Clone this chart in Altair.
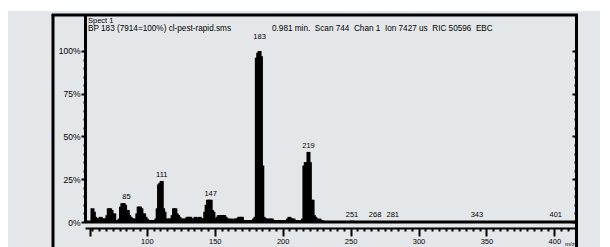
import altair as alt
import pandas as pd

# ---- data ----
mz = [60, 61, 62, 63, 64, 65, 66, 67, 68, 69, 70, 71, 72, 73, 74, 75, 76, 77, 78, 79,
      80, 81, 82, 83, 84, 85, 86, 87, 88, 89, 90, 91, 92, 93, 94, 95, 96, 97, 98, 99,
      100, 101, 102, 103, 104, 105, 106, 107, 108, 109, 110, 111, 112, 113, 114, 115, 116, 117, 118, 119,
      120, 121, 122, 123, 124, 125, 126, 127, 128, 129, 130, 131, 132, 133, 134, 135, 136, 137, 138, 139,
      140, 141, 142, 143, 144, 145, 146, 147, 148, 149, 150, 151, 152, 153, 154, 155, 156, 157, 158, 159,
      160, 161, 162, 163, 164, 165, 166, 167, 168, 169, 170, 171, 172, 173, 174, 175, 176, 177, 178, 179,
      180, 181, 182, 183, 184, 185, 186, 187, 188, 189, 190, 191, 192, 193, 194, 195, 196, 197, 198, 199,
      200, 201, 202, 203, 204, 205, 206, 207, 208, 209, 210, 211, 212, 213, 214, 215, 216, 217, 218, 219,
      220, 221, 222, 223, 224, 225, 226, 227, 228, 229, 230, 233, 235, 240, 245, 251, 268, 281, 343, 401]
intensity = [8, 6, 3, 2, 2, 2, 3, 2, 2, 2, 2, 4, 8, 8, 7, 5, 5, 1, 1, 1,
             2, 9, 11, 11, 10, 7, 7, 4, 3, 2, 2, 2, 1, 5, 9, 9, 8, 5, 5, 3,
             2, 1, 1, 1, 1, 1, 1, 2, 8, 22, 23, 24, 8, 6, 2, 1, 2, 2, 2, 4,
             8, 8, 5, 4, 3, 2, 2, 1, 2, 2, 3, 3, 3, 2, 2, 2, 3, 2, 2, 3,
             2, 2, 2, 6, 10, 13, 13, 13, 7, 6, 2, 2, 3, 4, 4, 4, 4, 4, 3, 2,
             2, 1, 2, 1, 1, 2, 2, 2, 3, 3, 3, 1, 1, 1, 1, 1, 1, 1, 1, 2,
             3, 96, 99, 100, 97, 33, 3, 2, 2, 2, 1, 2, 2, 1, 1, 1, 1, 1, 1, 1,
             1, 1, 1, 1, 2, 3, 2, 2, 2, 1, 1, 1, 1, 1, 1, 2, 33, 35, 35, 41,
             35, 13, 13, 4, 3, 2, 1, 2, 1, 1, 0.5, 0.5, 0.5, 0.5, 0.5, 0.8, 0.6, 0.6, 0.4, 0.4]

label_mz = [85, 111, 147, 183, 219, 251, 268, 281, 343, 401]
label_text = ["85", "111", "147", "183", "219", "251", "268", "281", "343", "401"]
label_pct = [11.5, 24.5, 13.5, 105, 41.5, 1.3, 1.3, 1.3, 1.3, 1.3]

y_ticks = list(range(0, 101, 5))
x_ticks = [58.2] + list(range(60, 411, 5))

NB = "\u00a0"
header1 = "Spect 1"
header2 = "BP 183 (7914=100%) cl-pest-rapid.sms"
header3 = NB.join(["0.981 min.", "", "Scan 744", "", "Chan 1", "", "Ion 7427 us", "", "RIC 50596", "", "EBC"])
xunit = "m/z"

df = pd.DataFrame({"mz": mz, "pct": intensity})
lab = pd.DataFrame({"mz": label_mz, "txt": label_text, "pct": label_pct})
one = alt.Data(values=[{"k": 0}])

W, H = 491, 207
FONT = "Liberation Sans"
xscale = alt.Scale(domain=[58.17, 412.24], nice=False, zero=False)
yscale = alt.Scale(domain=[0, 121.05], nice=False, zero=True)

x_axis = alt.Axis(
    values=x_ticks, orient="bottom", offset=6, title=None, grid=False,
    labelExpr="datum.value % 50 === 0 ? datum.value : ''",
    tickSize={"condition": {"test": "datum.value % 50 === 0 || datum.value < 59", "value": 8}, "value": 3},
    tickWidth=2, tickColor="black", domainColor="black", domainWidth=2,
    labelFont=FONT, labelFontSize=7.5, labelColor="black", labelPadding=1,
)
y_axis = alt.Axis(
    values=y_ticks, orient="left", title=None, grid=False,
    labelExpr="datum.value % 25 === 0 ? datum.value + '%' : ''",
    tickSize={"condition": {"test": "datum.value % 25 === 0", "value": 4}, "value": 2},
    tickWidth=2, tickColor="black", domainColor="black", domainWidth=3,
    labelFont=FONT, labelFontSize=8.5, labelColor="black", labelPadding=1,
)
y_axis_right = alt.Axis(
    values=y_ticks, orient="left", offset=-W, title=None, grid=False, labels=False, domain=False,
    tickSize={"condition": {"test": "datum.value % 25 === 0", "value": 4}, "value": 2},
    tickWidth=2, tickColor="black",
)

bars = alt.Chart(df).mark_bar(size=4, color="black").encode(
    x=alt.X("mz:Q", scale=xscale, axis=x_axis),
    y=alt.Y("pct:Q", scale=yscale, axis=y_axis),
)
right_ticks = alt.Chart(df).mark_bar(size=1, opacity=0).encode(
    x=alt.X("mz:Q", scale=xscale, axis=None),
    y=alt.Y("pct:Q", scale=yscale, axis=y_axis_right),
)
labels = alt.Chart(lab).mark_text(
    font=FONT, fontSize=7.5, color="black", baseline="bottom", dy=-1
).encode(
    x=alt.X("mz:Q", scale=xscale, axis=None),
    y=alt.Y("pct:Q", scale=yscale, axis=None),
    text="txt:N",
)
baseline = alt.Chart(one).mark_rule(color="black", strokeWidth=3).encode(
    y=alt.Y(datum=0, scale=yscale, axis=None),
    x=alt.value(0), x2=alt.value(W),
)


def rule(x, x2, y, y2, color="black", sw=3):
    return alt.Chart(one).mark_rule(color=color, strokeWidth=sw).encode(
        x=alt.value(x), x2=alt.value(x2), y=alt.value(y), y2=alt.value(y2))


frame_top = rule(-33.5, W + 2, 0, 0)
frame_left = rule(-32, -32, 0, 260)
frame_right = rule(W + 0.5, W + 0.5, 0, 260)
white_band = rule(-80, W + 40, -5.5, -5.5, color="white", sw=3)


def txt(s, x, y, size=7.5, align="left"):
    return alt.Chart(one).mark_text(
        text=s, font=FONT, fontSize=size, color="black", align=align, baseline="middle"
    ).encode(x=alt.value(x), y=alt.value(y))


t1 = txt(header1, 3, 5.5, 7.5)
t2 = txt(header2, 3, 14, 8.2)
t3 = txt(header3, 187, 14, 8.2)
t4 = txt(xunit, 480, 229, 6)

chart = alt.layer(
    white_band, bars, right_ticks, baseline, labels,
    frame_top, frame_left, frame_right, t1, t2, t3, t4,
).resolve_axis(x="independent", y="independent").properties(
    width=W, height=H,
    autosize=alt.AutoSizeParams(type="none"),
    padding={"left": 77, "top": 7, "right": 24, "bottom": 25},
    background="#e3e7ea",
).configure_view(stroke=None)

chart.save("out.html", embed_options={"renderer": "svg", "actions": False})
